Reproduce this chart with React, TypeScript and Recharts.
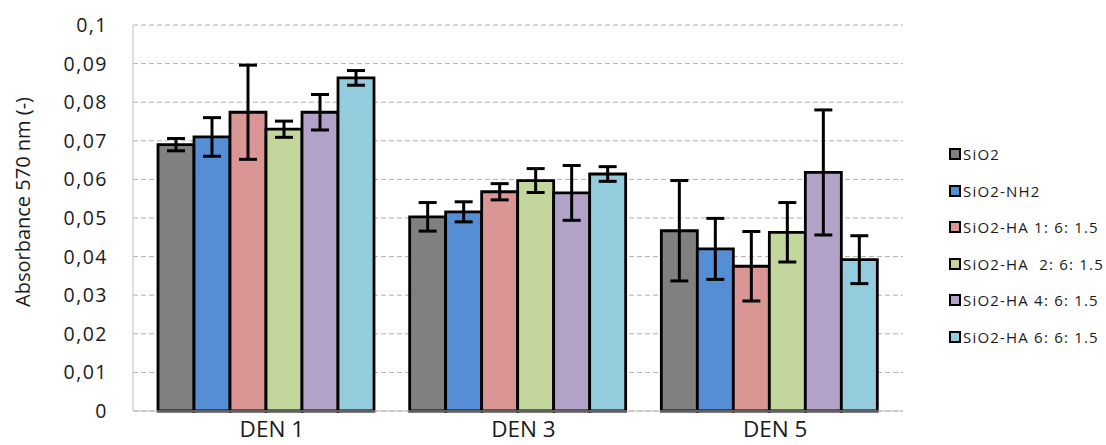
import React from 'react';
import { BarChart, Bar, XAxis, YAxis, CartesianGrid, ErrorBar } from 'recharts';

const categories = ['DEN 1', 'DEN 3', 'DEN 5'];
const seriesNames = ['SiO2', 'SiO2-NH2', 'SiO2-HA 1: 6: 1.5', 'SiO2-HA  2: 6: 1.5', 'SiO2-HA 4: 6: 1.5', 'SiO2-HA 6: 6: 1.5'];
const seriesColors = ['#808080', '#558ED5', '#D99694', '#C3D69B', '#B3A2C7', '#93CDDD'];

const sio2 = [0.0690, 0.0503, 0.0467];
const sio2Err = [0.0016, 0.0037, 0.0130];
const nh2 = [0.0710, 0.0516, 0.0420];
const nh2Err = [0.0050, 0.0026, 0.0079];
const ha1 = [0.0774, 0.0568, 0.0375];
const ha1Err = [0.0122, 0.0021, 0.0090];
const ha2 = [0.0730, 0.0597, 0.0463];
const ha2Err = [0.0021, 0.0031, 0.0077];
const ha4 = [0.0774, 0.0565, 0.0618];
const ha4Err = [0.0046, 0.0071, 0.0162];
const ha6 = [0.0863, 0.0614, 0.0392];
const ha6Err = [0.0019, 0.0019, 0.0062];

const yTicks = [0, 0.01, 0.02, 0.03, 0.04, 0.05, 0.06, 0.07, 0.08, 0.09, 0.1];

const values = [sio2, nh2, ha1, ha2, ha4, ha6];
const errors = [sio2Err, nh2Err, ha1Err, ha2Err, ha4Err, ha6Err];

const data = categories.map((c, i) => {
  const row: any = { name: c };
  values.forEach((v, s) => {
    row['s' + s] = v[i];
    row['e' + s] = errors[s][i];
  });
  return row;
});

const FONT = '"Open Sans", sans-serif';
const TEXT = '#1a1a1a';

const fmt = (v: number) => (v === 0 ? '0' : v.toFixed(2).replace(/0$/, '').replace('.', ','));

const YLabel = (props: any) => {
  const vb = props.viewBox || {};
  const cx = (vb.x || 0) + 22;
  const cy = (vb.y || 0) + (vb.height || 0) / 2 - 16;
  return (
    <text x={cx} y={cy} transform={`rotate(-90 ${cx} ${cy})`} textAnchor="middle" dominantBaseline="central"
      fontFamily={FONT} fontSize={20} fill={TEXT}>
      Absorbance 570 nm (-)
    </text>
  );
};

export default function App() {
  return (
    <div style={{ position: 'absolute', left: 0, top: 0, width: 1106, height: 445, background: '#fff' }}>
      <BarChart width={1106} height={445} data={data}
        margin={{ top: 25, right: 203, bottom: 0, left: 0 }}
        barCategoryGap={17} barGap={0}>
        <CartesianGrid vertical={false} stroke="#b0b0b0" strokeDasharray="5 3" />
        <XAxis dataKey="name" padding={{ left: 8, right: 7 }} axisLine={{ stroke: '#bfbfbf' }} tickLine={false}
          tickSize={0} tickMargin={10} height={34} interval={0}
          tick={{ fontFamily: FONT, fontSize: 22.5, fill: TEXT, dx: 5 }} />
        <XAxis xAxisId="top" orientation="top" dataKey="name" tick={false} tickLine={false} height={0}
          axisLine={{ stroke: '#bfbfbf' }} />
        <YAxis domain={[0, 0.1]} ticks={yTicks} tickFormatter={fmt} width={133} axisLine={{ stroke: '#bfbfbf' }}
          tickLine={false} tickSize={0} tickMargin={25} interval={0}
          tick={{ fontFamily: FONT, fontSize: 19.5, fill: TEXT, letterSpacing: 1.5 }}
          label={<YLabel />} />
        <YAxis yAxisId="right" orientation="right" domain={[0, 0.1]} tick={false} tickLine={false} width={0}
          axisLine={{ stroke: '#bfbfbf' }} />
        {seriesNames.map((n, s) => (
          <Bar key={n} dataKey={'s' + s} name={n} fill={seriesColors[s]} stroke="#000" strokeWidth={2.8}
            isAnimationActive={false}>
            <ErrorBar dataKey={'e' + s} width={9} stroke="#000" strokeWidth={3} direction="y" />
          </Bar>
        ))}
      </BarChart>
      <div style={{ position: 'absolute', left: 949, top: 136, fontFamily: FONT, fontSize: 15, color: TEXT }}>
        {seriesNames.map((n, s) => (
          <div key={n} style={{ display: 'flex', alignItems: 'center', height: 36.5 }}>
            <div style={{ width: 12, height: 12, boxSizing: 'border-box', border: '2px solid #000', background: seriesColors[s] }} />
            <span style={{ marginLeft: 2, whiteSpace: 'pre', letterSpacing: 1.2 }}>{n}</span>
          </div>
        ))}
      </div>
    </div>
  );
}
